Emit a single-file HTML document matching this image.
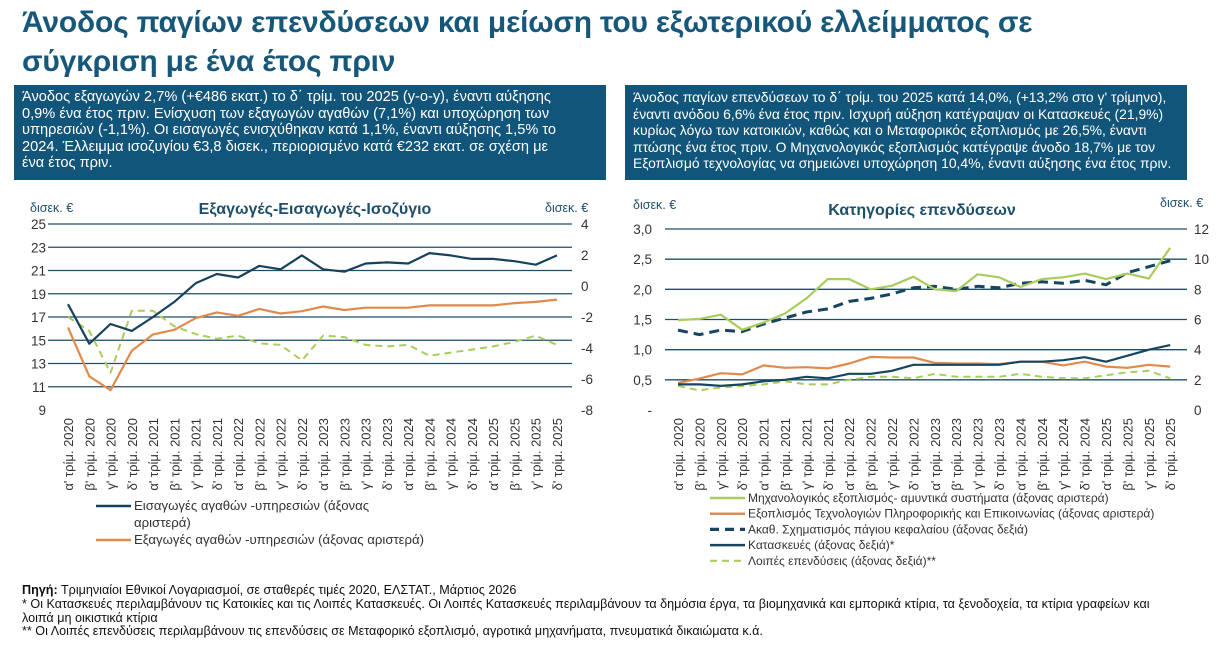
<!DOCTYPE html>
<html><head><meta charset="utf-8"><style>
body{margin:0;width:1220px;height:649px;background:#fff;font-family:"Liberation Sans","DejaVu Sans",sans-serif;overflow:hidden;position:relative}
.title{position:absolute;left:22px;top:3px;font-size:30px;font-weight:bold;color:#17587a;line-height:39px;letter-spacing:-0.2px}
.box{position:absolute;top:85px;height:95px;background:#12557a;color:#fff;font-size:14.2px;line-height:16.6px;padding:4px 8px;box-sizing:border-box}
.foot{position:absolute;left:22px;top:584px;font-family:"Liberation Sans Narrow","Liberation Sans",sans-serif;font-size:12.6px;line-height:13.8px;color:#111;width:1170px}
svg{position:absolute;left:0;top:0}
</style></head><body>
<div class="title">Άνοδος παγίων επενδύσεων και μείωση του εξωτερικού ελλείμματος σε<br>σύγκριση με ένα έτος πριν</div>
<div class="box" style="left:14px;width:592px;padding-right:14px;font-size:14.6px">Άνοδος εξαγωγών 2,7% (+€486 εκατ.) το δ΄ τρίμ. του 2025 (y-o-y), έναντι αύξησης<br>0,9% ένα έτος πριν. Ενίσχυση των εξαγωγών αγαθών (7,1%) και υποχώρηση των<br>υπηρεσιών (-1,1%). Οι εισαγωγές ενισχύθηκαν κατά 1,1%, έναντι αύξησης 1,5% το<br>2024. Έλλειμμα ισοζυγίου €3,8 δισεκ., περιορισμένο κατά €232 εκατ. σε σχέση με<br>ένα έτος πριν.</div>
<div class="box" style="left:625px;width:562px;font-size:13.9px;padding-right:4px">Άνοδος παγίων επενδύσεων το δ΄ τρίμ. του 2025 κατά 14,0%, (+13,2% στο γ' τρίμηνο), έναντι ανόδου 6,6% ένα έτος πριν. Ισχυρή αύξηση κατέγραψαν οι Κατασκευές (21,9%) κυρίως λόγω των κατοικιών, καθώς και ο Μεταφορικός εξοπλισμός με 26,5%, έναντι πτώσης ένα έτος πριν. Ο Μηχανολογικός εξοπλισμός κατέγραψε άνοδο 18,7% με τον Εξοπλισμό τεχνολογίας να σημειώνει υποχώρηση 10,4%, έναντι αύξησης ένα έτος πριν.</div>
<div class="foot"><b>Πηγή:</b> Τριμηνιαίοι Εθνικοί Λογαριασμοί, σε σταθερές τιμές 2020, ΕΛΣΤΑΤ., Μάρτιος 2026<br>* Οι Κατασκευές περιλαμβάνουν τις Κατοικίες και τις Λοιπές Κατασκευές. Οι Λοιπές Κατασκευές περιλαμβάνουν τα δημόσια έργα, τα βιομηχανικά και εμπορικά κτίρια, τα ξενοδοχεία, τα κτίρια γραφείων και<br>λοιπά μη οικιστικά κτίρια<br>** Οι Λοιπές επενδύσεις περιλαμβάνουν τις επενδύσεις σε Μεταφορικό εξοπλισμό, αγροτικά μηχανήματα, πνευματικά δικαιώματα κ.ά.</div>
<svg id="chart" width="1220" height="649"></svg>
<script>
const categories=["α' τρίμ. 2020","β' τρίμ. 2020","γ' τρίμ. 2020","δ' τρίμ. 2020","α' τρίμ. 2021","β' τρίμ. 2021","γ' τρίμ. 2021","δ' τρίμ. 2021","α' τρίμ. 2022","β' τρίμ. 2022","γ' τρίμ. 2022","δ' τρίμ. 2022","α' τρίμ. 2023","β' τρίμ. 2023","γ' τρίμ. 2023","δ' τρίμ. 2023","α' τρίμ. 2024","β' τρίμ. 2024","γ' τρίμ. 2024","δ' τρίμ. 2024","α' τρίμ. 2025","β' τρίμ. 2025","γ' τρίμ. 2025","δ' τρίμ. 2025"];
const imports=[18.1,14.7,16.4,15.8,17.0,18.3,19.9,20.7,20.4,21.4,21.1,22.3,21.1,20.9,21.6,21.7,21.6,22.5,22.3,22.0,22.0,21.8,21.5,22.3];
const exports_=[16.1,11.9,10.7,14.1,15.5,15.9,16.9,17.4,17.1,17.7,17.3,17.5,17.9,17.6,17.8,17.8,17.8,18.0,18.0,18.0,18.0,18.2,18.3,18.5];
const balance=[-2.0,-2.9,-5.6,-1.6,-1.6,-2.6,-3.1,-3.4,-3.2,-3.7,-3.8,-4.8,-3.2,-3.3,-3.8,-3.9,-3.8,-4.5,-4.3,-4.1,-3.9,-3.6,-3.2,-3.8];
const machinery=[1.49,1.51,1.58,1.33,1.45,1.60,1.85,2.17,2.17,2.00,2.06,2.21,2.00,1.97,2.25,2.20,2.04,2.17,2.20,2.26,2.17,2.26,2.18,2.69];
const ict=[0.45,0.52,0.61,0.59,0.74,0.70,0.71,0.69,0.77,0.88,0.87,0.87,0.78,0.77,0.77,0.76,0.80,0.80,0.74,0.80,0.72,0.70,0.75,0.72];
const gfcf=[5.3,5.0,5.3,5.2,5.7,6.1,6.5,6.7,7.2,7.4,7.7,8.1,8.2,8.0,8.2,8.1,8.4,8.5,8.4,8.6,8.3,9.1,9.5,9.9];
const construction=[1.7,1.7,1.6,1.7,1.9,2.0,2.2,2.1,2.4,2.4,2.6,3.0,3.0,3.0,3.0,3.0,3.2,3.2,3.3,3.5,3.2,3.6,4.0,4.3];
const others=[1.6,1.3,1.5,1.6,1.7,1.9,1.7,1.7,2.0,2.2,2.2,2.1,2.4,2.2,2.2,2.2,2.4,2.2,2.1,2.1,2.3,2.5,2.6,2.1];
const leftTicksA=["25","23","21","19","17","15","13","11","9"];
const rightTicksA=["4","2","0","-2","-4","-6","-8"];
const leftTicksB=["3,0","2,5","2,0","1,5","1,0","0,5","-"];
const rightTicksB=["12","10","8","6","4","2","0"];

const svg=document.getElementById('chart');const NS='http://www.w3.org/2000/svg';
function mk(t,a,txt){const e=document.createElementNS(NS,t);for(const k in a)e.setAttribute(k,a[k]);if(txt!=null)e.textContent=txt;svg.appendChild(e);return e;}
const DARK='#17425c',ORANGE='#e08a4c',LGREEN='#a9cd5b',NAVY='#16465f';
function chart(o){
  const top=o.top,bot=410;
  const yL=v=>bot-(v-o.lmin)/(o.lmax-o.lmin)*(bot-top);
  const yR=v=>bot-(v-o.rmin)/(o.rmax-o.rmin)*(bot-top);
  const x=i=>o.x0+i*o.step;
  o.lt.forEach((t,i)=>{const y=top+i*(bot-top)/(o.lt.length-1);
    if(i<o.lt.length-1){const g=mk('line',{x1:o.g0,x2:o.g1,y1:y,y2:y,stroke:'#1e4e6a','stroke-width':1.3});}
    const e=mk('text',{x:o.lx,y:y+5,'text-anchor':'end','font-size':13.5,fill:'#333'},t);});
  o.rt.forEach((t,i)=>{const y=top+i*(bot-top)/(o.rt.length-1);
    const e=mk('text',{x:o.rx,y:y+5,'text-anchor':'start','font-size':13.5,fill:'#333'},t);});
  categories.forEach((c,i)=>{const e=mk('text',{x:0,y:0,'text-anchor':'end','font-size':13,fill:'#333',transform:`translate(${x(i)+5},418) rotate(-90)`},c);});
  o.series.forEach(s=>{const f=s.axis==='L'?yL:yR;
    const p=mk('polyline',{points:s.data.map((v,i)=>x(i).toFixed(1)+','+f(v).toFixed(1)).join(' '),fill:'none',stroke:s.color,'stroke-width':s.w,'stroke-dasharray':s.dash||'none','stroke-linejoin':'round'});
    });
}
chart({top:224,lmin:9,lmax:25,rmin:-8,rmax:4,x0:68,step:21.26,g0:48,g1:572,lx:46,rx:581,lt:leftTicksA,rt:rightTicksA,
 series:[{data:balance,axis:'R',color:LGREEN,w:2,dash:'7,5',name:'balance-line'},{data:exports_,axis:'L',color:ORANGE,w:2.2,name:'exports-line'},{data:imports,axis:'L',color:DARK,w:2.2,name:'imports-line'}]});
chart({top:229,lmin:0,lmax:3,rmin:0,rmax:12,x0:678,step:21.4,g0:665,g1:1187,lx:652,rx:1194,lt:leftTicksB,rt:rightTicksB,
 series:[{data:others,axis:'R',color:LGREEN,w:2,dash:'7,5',name:'other-investment-line'},{data:ict,axis:'L',color:ORANGE,w:2.2,name:'ict-line'},{data:construction,axis:'R',color:NAVY,w:2.2,name:'construction-line'},{data:gfcf,axis:'R',color:NAVY,w:3,dash:'10,6',name:'gfcf-line'},{data:machinery,axis:'L',color:LGREEN,w:2.2,name:'machinery-line'}]});
function txt(x,y,s,a,name){const e=mk('text',Object.assign({x:x,y:y},a),s);}
txt(30,212,'δισεκ. €',{'font-size':12.5,fill:'#1d4f6b'},'left-axis-unit');
txt(545,212,'δισεκ. €',{'font-size':12.5,fill:'#1d4f6b'},'right-axis-unit');
txt(315,214,'Εξαγωγές-Εισαγωγές-Ισοζύγιο',{'font-size':16,'font-weight':'bold',fill:'#1d4f6b','text-anchor':'middle'},'chart-title-trade');
txt(633,209,'δισεκ. €',{'font-size':12.5,fill:'#1d4f6b'},'left-axis-unit');
txt(1160,207,'δισεκ. €',{'font-size':12.5,fill:'#1d4f6b'},'right-axis-unit');
txt(922,215,'Κατηγορίες επενδύσεων',{'font-size':16,'font-weight':'bold',fill:'#1d4f6b','text-anchor':'middle'},'chart-title-investment');
function leg(x,y,color,dash,w,lines,name,fs){const l=mk('line',{x1:x,x2:x+35,y1:y,y2:y,stroke:color,'stroke-width':w,'stroke-dasharray':dash||'none'});
 lines.forEach((s,i)=>txt(x+38,y+4+i*17,s,{'font-size':fs,fill:'#333'},name+'-label'));}
leg(96,506,DARK,null,2.5,['Εισαγωγές αγαθών -υπηρεσιών (άξονας','αριστερά)'],'legend-imports',13.2);
leg(96,540,ORANGE,null,2.5,['Εξαγωγές αγαθών -υπηρεσιών (άξονας αριστερά)'],'legend-exports',13.2);
const rl=[[LGREEN,null,2.5,'Μηχανολογικός εξοπλισμός- αμυντικά συστήματα (άξονας αριστερά)','legend-machinery'],[ORANGE,null,2.5,'Εξοπλισμός Τεχνολογιών Πληροφορικής και Επικοινωνίας (άξονας αριστερά)','legend-ict'],[NAVY,'9,6',3.2,'Ακαθ. Σχηματισμός πάγιου κεφαλαίου (άξονας δεξιά)','legend-gfcf'],[NAVY,null,2.5,'Κατασκευές (άξονας δεξιά)*','legend-construction'],[LGREEN,'7,5',2.2,'Λοιπές επενδύσεις (άξονας δεξιά)**','legend-other']];
rl.forEach((r,i)=>leg(710,498+i*15.7,r[0],r[1],r[2],[r[3]],r[4],12));
</script>
</body></html>
